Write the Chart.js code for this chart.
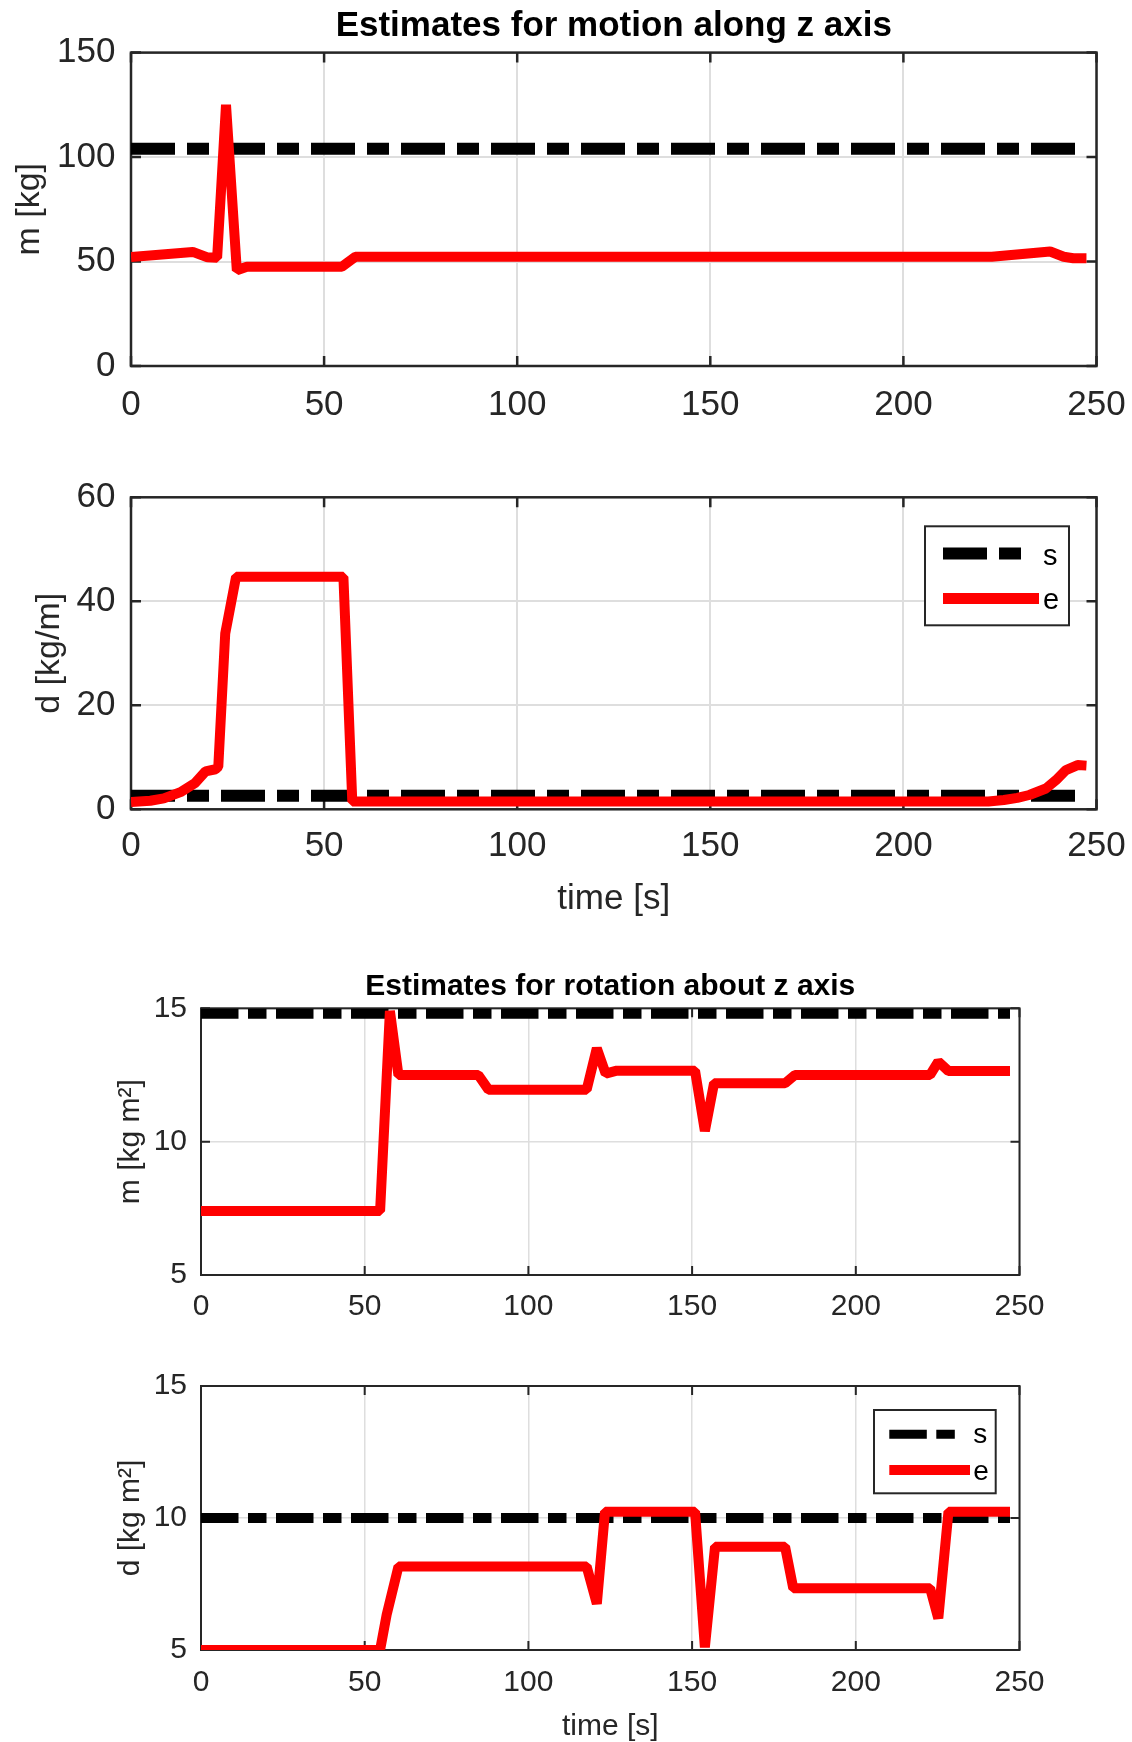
<!DOCTYPE html>
<html>
<head>
<meta charset="utf-8">
<script src="https://cdn.jsdelivr.net/npm/chart.js@4.4.1/dist/chart.umd.min.js"></script>
<style>
  html, body { margin: 0; padding: 0; background: #fff; }
  body { width: 1132px; height: 1742px; position: relative; overflow: hidden; }
  canvas { position: absolute; left: 0; display: block; }
</style>
</head>
<body>
<canvas id="massZ" style="top:0px"></canvas>
<canvas id="dampZ" style="top:440px"></canvas>
<canvas id="massRot" style="top:940px"></canvas>
<canvas id="dampRot" style="top:1320px"></canvas>
<script>
const timeTicks = [0, 50, 100, 150, 200, 250];
const legendLabels = ['s', 'e'];

// motion along z, m [kg]
const motionMassT = [0, 16.0, 19.8, 22.3, 24.6, 27.4, 30.0, 54.6, 58.1, 222.9, 238.0, 241.5, 244.0, 247.4];
const motionMassE = [52.2, 54.6, 52.0, 51.8, 125, 45.8, 47.5, 47.5, 52.3, 52.3, 54.8, 52.3, 51.6, 51.6];
const motionRefT = [0, 247.4];
const motionMassS = [104, 104];
const motionMassTicks = [0, 50, 100, 150];

// motion along z, d [kg/m]
const motionDampT = [0, 5, 8.5, 12.8, 16.5, 19.3, 21.9, 22.6, 24.4, 27.2, 55.0, 57.3, 222.0, 226.0, 229.5, 232.6, 236.9, 239.5, 242.1, 245.1, 247.4];
const motionDampE = [1.4, 1.65, 2.1, 3.3, 5.0, 7.3, 7.7, 8.2, 33.8, 44.7, 44.7, 1.5, 1.5, 1.8, 2.2, 2.75, 4.0, 5.6, 7.55, 8.5, 8.4];
const motionDampS = [2.6, 2.6];
const motionDampTicks = [0, 20, 40, 60];

// rotation about z, m [kg m^2]
const rotMassT = [0, 54.7, 57.7, 60.3, 84.7, 87.8, 117.8, 120.9, 123.6, 127.0, 150.9, 153.9, 156.7, 178.4, 181.4, 222.7, 225.2, 228.3, 247.1];
const rotMassE = [7.4, 7.4, 14.9, 12.5, 12.5, 11.95, 11.95, 13.5, 12.55, 12.66, 12.66, 10.4, 12.19, 12.19, 12.5, 12.5, 13.0, 12.65, 12.65];
const rotRefT = [0, 247.1];
const rotMassS = [14.8, 14.8];
const rotTicks = [5, 10, 15];

// rotation about z, d [kg m^2]
const rotDampT = [0, 54.7, 56.7, 60.3, 117.8, 120.9, 123.4, 150.9, 153.9, 157.0, 178.4, 180.9, 222.7, 225.2, 228.3, 247.1];
const rotDampE = [5.0, 5.0, 6.33, 8.16, 8.16, 6.75, 10.24, 10.24, 5.1, 8.91, 8.91, 7.34, 7.34, 6.2, 10.24, 10.24];
const rotDampS = [10, 10];

const ink = '#262626';
const family = '"Liberation Sans", Arial, Helvetica, sans-serif';
Chart.defaults.font.family = family;

function pts(ts, vs) {
    return ts.map((t, i) => ({ x: t, y: vs[i] }));
}

function estimateSet(ts, vs, w) {
    return {
        label: 'e', data: pts(ts, vs), order: 0,
        borderColor: '#ff0000', borderWidth: w,
        borderJoinStyle: 'bevel', borderCapStyle: 'butt',
        pointRadius: 0, tension: 0, fill: false
    };
}

function refSet(ts, vs, w, dash) {
    return {
        label: 's', data: pts(ts, vs), order: 1,
        borderColor: '#000000', borderWidth: w, borderDash: dash,
        borderCapStyle: 'butt', pointRadius: 0, tension: 0, fill: false
    };
}

// matlab style box with inward ticks on all four sides
const matlabAxes = {
    id: 'matlabAxes',
    beforeDatasetsDraw(chart, args, o) {
        const { ctx, chartArea: a, scales: { x, y } } = chart;
        ctx.save();
        ctx.strokeStyle = ink;
        ctx.lineWidth = o.lineWidth;
        ctx.beginPath();
        x.ticks.forEach(t => {
            const p = x.getPixelForValue(t.value);
            ctx.moveTo(p, a.bottom); ctx.lineTo(p, a.bottom - o.tickLength);
            ctx.moveTo(p, a.top); ctx.lineTo(p, a.top + o.tickLength);
        });
        y.ticks.forEach(t => {
            const p = y.getPixelForValue(t.value);
            ctx.moveTo(a.left, p); ctx.lineTo(a.left + o.tickLength, p);
            ctx.moveTo(a.right, p); ctx.lineTo(a.right - o.tickLength, p);
        });
        ctx.stroke();
        ctx.strokeRect(a.left, a.top, a.right - a.left, a.bottom - a.top);
        ctx.restore();
    }
};

// legend box inside the plot, like matlab's 'northeast'
const boxLegend = {
    id: 'boxLegend',
    afterDatasetsDraw(chart, args, o) {
        if (!o.show) return;
        const { ctx, chartArea: a } = chart;
        const left = a.right - o.right - o.width;
        const top = a.top + o.top;
        ctx.save();
        ctx.fillStyle = '#fff';
        ctx.fillRect(left, top, o.width, o.height);
        ctx.strokeStyle = ink;
        ctx.lineWidth = 2;
        ctx.strokeRect(left, top, o.width, o.height);
        ctx.font = o.fontSize + 'px ' + family;
        ctx.textBaseline = 'alphabetic';
        legendLabels.forEach((label, i) => {
            const ds = chart.data.datasets.find(d => d.label === label);
            ctx.beginPath();
            ctx.strokeStyle = ds.borderColor;
            ctx.lineWidth = o.sampleWidth[i];
            ctx.lineCap = 'butt';
            ctx.setLineDash(ds.borderDash || []);
            ctx.moveTo(left + o.sampleX, top + o.lineY[i]);
            ctx.lineTo(left + o.sampleEnd[i], top + o.lineY[i]);
            ctx.stroke();
            ctx.setLineDash([]);
            ctx.fillStyle = '#000';
            ctx.fillText(label, left + o.textX, top + o.baseline[i]);
        });
        ctx.restore();
    }
};

function panel(id, p) {
    const canvas = document.getElementById(id);
    canvas.width = 1132;
    canvas.height = p.height;
    return new Chart(canvas, {
        type: 'line',
        data: { datasets: p.datasets },
        plugins: [matlabAxes, boxLegend],
        options: {
            responsive: false,
            animation: false,
            events: [],
            layout: { padding: { top: p.padTop, right: p.padRight, bottom: 0, left: 0 } },
            plugins: {
                legend: { display: false },
                tooltip: { enabled: false },
                title: p.title ? {
                    display: true, text: p.title, color: '#000', fullSize: false,
                    font: { size: p.titleSize, weight: 'bold', lineHeight: 1.2 },
                    padding: { top: p.titlePadTop, bottom: p.titlePadBottom }
                } : { display: false },
                matlabAxes: { lineWidth: p.axisWidth, tickLength: p.tickLength },
                boxLegend: p.legend || { show: false }
            },
            scales: {
                x: {
                    type: 'linear', min: 0, max: 250,
                    afterBuildTicks: s => { s.ticks = timeTicks.map(v => ({ value: v })); },
                    afterFit: s => { s.height = p.xHeight; },
                    // invisible tick marks give the label gap without widening the side padding
                    grid: { color: '#dedede', lineWidth: p.gridWidth, drawTicks: true, tickLength: p.xTickGap, tickColor: 'rgba(0,0,0,0)' },
                    border: { display: false },
                    ticks: { autoSkip: false, maxRotation: 0, padding: 0, color: ink, font: { size: p.tickSize } },
                    title: p.xTitle ? {
                        display: true, text: p.xTitle, color: ink,
                        font: { size: p.xTitleSize }, padding: { top: 0, bottom: p.xTitlePad }
                    } : { display: false }
                },
                y: {
                    type: 'linear', min: p.yTicks[0], max: p.yTicks[p.yTicks.length - 1],
                    afterBuildTicks: s => { s.ticks = p.yTicks.map(v => ({ value: v })); },
                    afterFit: s => { s.width = p.left; },
                    grid: { color: '#dedede', lineWidth: p.gridWidth, drawTicks: false },
                    border: { display: false },
                    ticks: { padding: p.yTickPad, color: ink, font: { size: p.tickSize } },
                    title: {
                        display: true, text: p.yTitle, color: ink,
                        font: { size: p.yTitleSize }, padding: { top: p.yTitlePad, bottom: 0 }
                    }
                }
            }
        }
    });
}

const bigDash = [44, 12, 22, 12];
const smallDash = [37.5, 9.5, 18.5, 9.5];

panel('massZ', {
    height: 440, padTop: 0, padRight: 35.5, left: 131, xHeight: 74,
    title: 'Estimates for motion along z axis', titleSize: 35, titlePadTop: 5.6, titlePadBottom: 5,
    yTicks: motionMassTicks, yTitle: 'm [kg]', yTitleSize: 34, yTitlePad: 9.6,
    tickSize: 35, xTickGap: 18, yTickPad: 15.5,
    axisWidth: 2.5, tickLength: 10, gridWidth: 2,
    datasets: [refSet(motionRefT, motionMassS, 12, bigDash), estimateSet(motionMassT, motionMassE, 10)]
});

panel('dampZ', {
    height: 500, padTop: 57.3, padRight: 35.5, left: 131, xHeight: 130.7,
    yTicks: motionDampTicks, yTitle: 'd [kg/m]', yTitleSize: 34, yTitlePad: 29.6,
    xTitle: 'time [s]', xTitleSize: 35, xTitlePad: 20,
    tickSize: 35, xTickGap: 16.4, yTickPad: 15.5,
    axisWidth: 2.5, tickLength: 10, gridWidth: 2,
    legend: {
        show: true, right: 27.5, top: 29, width: 144, height: 99, fontSize: 29,
        sampleX: 18, sampleEnd: [97, 114], lineY: [27.3, 72.3], sampleWidth: [12, 11],
        textX: 118, baseline: [39, 82.3]
    },
    datasets: [refSet(motionRefT, motionDampS, 12, bigDash), estimateSet(motionDampT, motionDampE, 10)]
});

panel('massRot', {
    height: 380, padTop: 0, padRight: 112.5, left: 201, xHeight: 45,
    title: 'Estimates for rotation about z axis', titleSize: 30, titlePadTop: 28.9, titlePadBottom: 3.4,
    yTicks: rotTicks, yTitle: 'm [kg m²]', yTitleSize: 30, yTitlePad: 113,
    tickSize: 30, xTickGap: 13.7, yTickPad: 14,
    axisWidth: 2, tickLength: 9, gridWidth: 1.5,
    datasets: [refSet(rotRefT, rotMassS, 10, smallDash), estimateSet(rotMassT, rotMassE, 10)]
});

panel('dampRot', {
    height: 425, padTop: 66, padRight: 112.5, left: 201, xHeight: 95,
    yTicks: rotTicks, yTitle: 'd [kg m²]', yTitleSize: 30, yTitlePad: 113,
    xTitle: 'time [s]', xTitleSize: 30, xTitlePad: 0,
    tickSize: 30, xTickGap: 14.5, yTickPad: 14,
    axisWidth: 2, tickLength: 9, gridWidth: 1.5,
    legend: {
        show: true, right: 23.8, top: 24, width: 121.7, height: 83.3, fontSize: 28,
        sampleX: 15.3, sampleEnd: [81, 96], lineY: [24.3, 60], sampleWidth: [9, 10],
        textX: 99.3, baseline: [33.3, 70]
    },
    datasets: [refSet(rotRefT, rotDampS, 10, smallDash), estimateSet(rotDampT, rotDampE, 10)]
});
</script>
</body>
</html>
